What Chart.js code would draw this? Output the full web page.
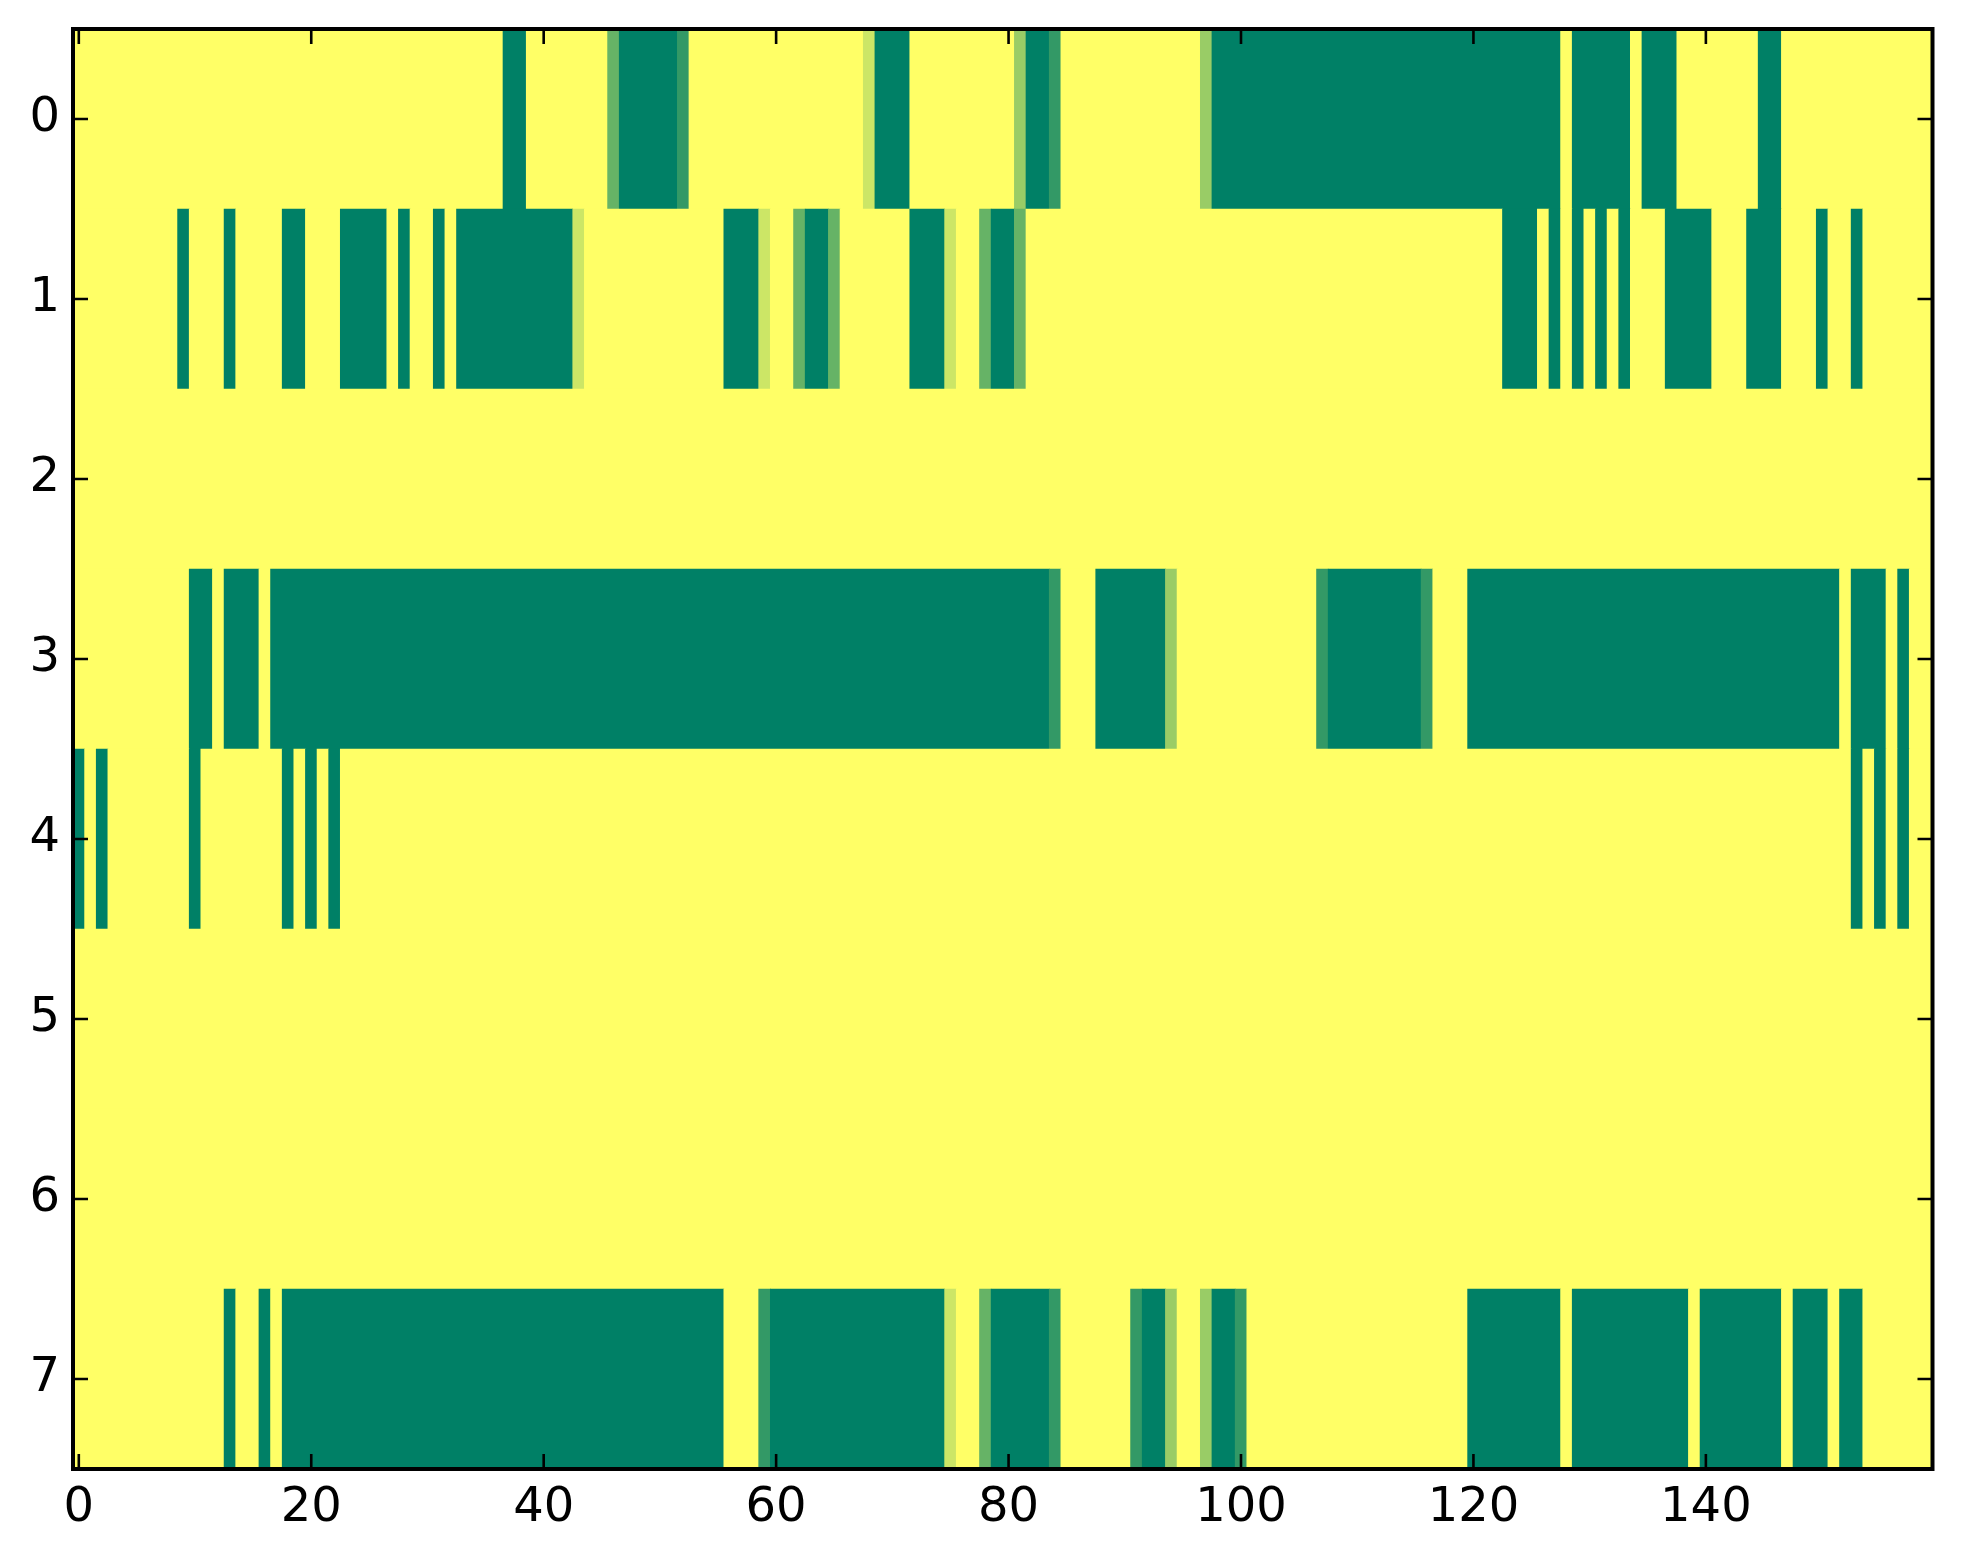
<!DOCTYPE html>
<html>
<head>
<meta charset="utf-8">
<script src="https://cdn.jsdelivr.net/npm/chart.js@4.4.1/dist/chart.umd.min.js"></script>
<style>
html,body{margin:0;padding:0;background:#ffffff;}
#wrap{width:1963px;height:1564px;}
</style>
</head>
<body>
<div id="wrap"><canvas id="c" width="1963" height="1564"></canvas></div>
<script>
// ---- data (cell values, 0 = low end, 1 = high end of colour scale) ----
const rowLabels = [0, 1, 2, 3, 4, 5, 6, 7];
const xTickValues = [0, 20, 40, 60, 80, 100, 120, 140];
const nCols = 160;

const row0 = [
  0,0,0,0,0,0,0,0,0,0, 0,0,0,0,0,0,0,0,0,0,
  0,0,0,0,0,0,0,0,0,0, 0,0,0,0,0,0,0,1,1,0,
  0,0,0,0,0,0,.6,1,1,1, 1,1,.8,0,0,0,0,0,0,0,
  0,0,0,0,0,0,0,0,.2,1, 1,1,0,0,0,0,0,0,0,0,
  0,.4,1,1,.8,0,0,0,0,0, 0,0,0,0,0,0,0,.4,1,1,
  1,1,1,1,1,1,1,1,1,1, 1,1,1,1,1,1,1,1,1,1,
  1,1,1,1,1,1,1,1,0,1, 1,1,1,1,0,1,1,1,0,0,
  0,0,0,0,0,1,1,0,0,0, 0,0,0,0,0,0,0,0,0,0
];
const row1 = [
  0,0,0,0,0,0,0,0,0,1, 0,0,0,1,0,0,0,0,1,1,
  0,0,0,1,1,1,1,0,1,0, 0,1,0,1,1,1,1,1,1,1,
  1,1,1,.2,0,0,0,0,0,0, 0,0,0,0,0,0,1,1,1,.2,
  0,0,.6,1,1,.6,0,0,0,0, 0,0,1,1,1,.2,0,0,.6,1,
  1,.6,0,0,0,0,0,0,0,0, 0,0,0,0,0,0,0,0,0,0,
  0,0,0,0,0,0,0,0,0,0, 0,0,0,0,0,0,0,0,0,0,
  0,0,0,1,1,1,0,1,0,1, 0,1,0,1,0,0,0,1,1,1,
  1,0,0,0,1,1,1,0,0,0, 1,0,0,1,0,0,0,0,0,0
];
const row2 = [
  0,0,0,0,0,0,0,0,0,0, 0,0,0,0,0,0,0,0,0,0,
  0,0,0,0,0,0,0,0,0,0, 0,0,0,0,0,0,0,0,0,0,
  0,0,0,0,0,0,0,0,0,0, 0,0,0,0,0,0,0,0,0,0,
  0,0,0,0,0,0,0,0,0,0, 0,0,0,0,0,0,0,0,0,0,
  0,0,0,0,0,0,0,0,0,0, 0,0,0,0,0,0,0,0,0,0,
  0,0,0,0,0,0,0,0,0,0, 0,0,0,0,0,0,0,0,0,0,
  0,0,0,0,0,0,0,0,0,0, 0,0,0,0,0,0,0,0,0,0,
  0,0,0,0,0,0,0,0,0,0, 0,0,0,0,0,0,0,0,0,0
];
const row3 = [
  0,0,0,0,0,0,0,0,0,0, 1,1,0,1,1,1,0,1,1,1,
  1,1,1,1,1,1,1,1,1,1, 1,1,1,1,1,1,1,1,1,1,
  1,1,1,1,1,1,1,1,1,1, 1,1,1,1,1,1,1,1,1,1,
  1,1,1,1,1,1,1,1,1,1, 1,1,1,1,1,1,1,1,1,1,
  1,1,1,1,.8,0,0,0,1,1, 1,1,1,1,.4,0,0,0,0,0,
  0,0,0,0,0,0,0,.8,1,1, 1,1,1,1,1,1,.8,0,0,0,
  1,1,1,1,1,1,1,1,1,1, 1,1,1,1,1,1,1,1,1,1,
  1,1,1,1,1,1,1,1,1,1, 1,1,0,1,1,1,0,1,0,0
];
const row4 = [
  1,0,1,0,0,0,0,0,0,0, 1,0,0,0,0,0,0,0,1,0,
  1,0,1,0,0,0,0,0,0,0, 0,0,0,0,0,0,0,0,0,0,
  0,0,0,0,0,0,0,0,0,0, 0,0,0,0,0,0,0,0,0,0,
  0,0,0,0,0,0,0,0,0,0, 0,0,0,0,0,0,0,0,0,0,
  0,0,0,0,0,0,0,0,0,0, 0,0,0,0,0,0,0,0,0,0,
  0,0,0,0,0,0,0,0,0,0, 0,0,0,0,0,0,0,0,0,0,
  0,0,0,0,0,0,0,0,0,0, 0,0,0,0,0,0,0,0,0,0,
  0,0,0,0,0,0,0,0,0,0, 0,0,0,1,0,1,0,1,0,0
];
const row5 = row2.slice();
const row6 = row2.slice();
const row7 = [
  0,0,0,0,0,0,0,0,0,0, 0,0,0,1,0,0,1,0,1,1,
  1,1,1,1,1,1,1,1,1,1, 1,1,1,1,1,1,1,1,1,1,
  1,1,1,1,1,1,1,1,1,1, 1,1,1,1,1,1,0,0,0,.8,
  1,1,1,1,1,1,1,1,1,1, 1,1,1,1,1,.2,0,0,.6,1,
  1,1,1,1,.8,0,0,0,0,0, 0,.8,1,1,.4,0,0,.4,1,1,
  .8,0,0,0,0,0,0,0,0,0, 0,0,0,0,0,0,0,0,0,0,
  1,1,1,1,1,1,1,1,0,1, 1,1,1,1,1,1,1,1,1,0,
  1,1,1,1,1,1,1,0,1,1, 1,0,1,1,0,0,0,0,0,0
];
const rows = [row0, row1, row2, row3, row4, row5, row6, row7];

// ---- colour map (reversed "summer") ----
function summerR(v) {
  const t = 1 - v;
  return 'rgb(' + Math.round(255 * t) + ',' + Math.round(255 * (0.5 + 0.5 * t)) + ',102)';
}

// ---- merge equal neighbouring cells into runs, one floating bar per run ----
const cells = [];
rows.forEach(function (vals, r) {
  let start = 0;
  for (let c = 1; c <= nCols; c++) {
    if (c === nCols || vals[c] !== vals[start]) {
      cells.push({ x: [start - 0.5, c - 0.5], y: rowLabels[r], v: vals[start] });
      start = c;
    }
  }
});

const FONT = { family: 'DejaVu Sans', size: 48 };

const areaBg = {
  id: 'areaBg',
  beforeDatasetsDraw(chart) {
    const a = chart.chartArea, ctx = chart.ctx;
    ctx.save();
    ctx.fillStyle = summerR(0);
    ctx.fillRect(a.left, a.top, a.right - a.left, a.bottom - a.top);
    ctx.restore();
  }
};

const frame = {
  id: 'frame',
  afterDatasetsDraw(chart) {
    const a = chart.chartArea, ctx = chart.ctx;
    const xs = chart.scales.x, ys = chart.scales.y;
    const L = 15;
    ctx.save();
    ctx.strokeStyle = '#000';
    ctx.lineWidth = 2.6;
    ctx.beginPath();
    xs.ticks.forEach(function (t) {
      const p = xs.getPixelForValue(t.value);
      ctx.moveTo(p, a.bottom); ctx.lineTo(p, a.bottom - L);
      ctx.moveTo(p, a.top); ctx.lineTo(p, a.top + L);
    });
    ys.ticks.forEach(function (t) {
      const p = ys.getPixelForValue(t.value);
      ctx.moveTo(a.left, p); ctx.lineTo(a.left + L, p);
      ctx.moveTo(a.right, p); ctx.lineTo(a.right - L, p);
    });
    ctx.stroke();
    ctx.lineWidth = 4;
    ctx.strokeRect(a.left, a.top, a.right - a.left, a.bottom - a.top);
    ctx.restore();
  }
};

function noPad(s) {
  s.paddingTop = 0; s.paddingBottom = 0; s.paddingLeft = 0; s.paddingRight = 0;
}

new Chart(document.getElementById('c'), {
  type: 'bar',
  data: {
    datasets: [{
      data: cells,
      backgroundColor: function (ctx) { return ctx.raw ? summerR(ctx.raw.v) : summerR(0); },
      borderWidth: 0,
      categoryPercentage: 1,
      barPercentage: 1,
      grouped: false
    }]
  },
  options: {
    indexAxis: 'y',
    responsive: false,
    animation: false,
    devicePixelRatio: 1,
    events: [],
    layout: { padding: { top: 29, right: 30.5, left: 0, bottom: 0 } },
    plugins: { legend: { display: false }, tooltip: { enabled: false } },
    scales: {
      x: {
        type: 'linear',
        position: 'bottom',
        offset: false,
        min: -0.5,
        max: nCols - 0.5,
        grid: { display: false, drawTicks: false, offset: false },
        border: { display: false },
        ticks: { font: FONT, color: '#000', padding: 11, maxRotation: 0, autoSkip: false },
        afterBuildTicks: function (s) { s.ticks = xTickValues.map(function (v) { return { value: v }; }); },
        afterFit: function (s) { s.height = 95; noPad(s); }
      },
      y: {
        type: 'linear',
        position: 'left',
        reverse: true,
        offset: false,
        min: -0.5,
        max: rowLabels.length - 0.5,
        grid: { display: false, drawTicks: false, offset: false },
        border: { display: false },
        ticks: { font: FONT, color: '#000', padding: 13, autoSkip: false },
        afterBuildTicks: function (s) { s.ticks = rowLabels.map(function (v) { return { value: v }; }); },
        afterFit: function (s) { s.width = 73; noPad(s); }
      }
    }
  },
  plugins: [areaBg, frame]
});
</script>
</body>
</html>
